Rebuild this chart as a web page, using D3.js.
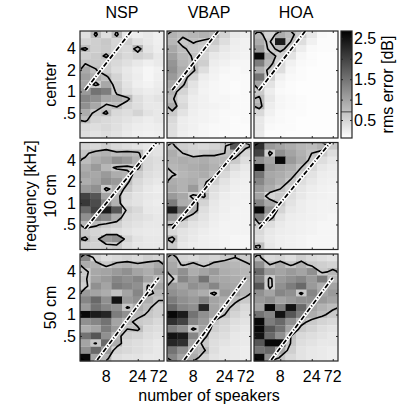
<!DOCTYPE html>
<html>
<head>
<meta charset="utf-8">
<script src="https://cdn.jsdelivr.net/npm/d3@7"></script>
<style>
  body { margin: 0; background: #fff; }
  text { font-family: "Liberation Sans", Arial, sans-serif; fill: #000; }
</style>
</head>
<body>
<svg id="chart" width="409" height="409"></svg>
<script>
// ---- data ----
var methods = ['NSP', 'VBAP', 'HOA']
var positions = ['center', '10 cm', '50 cm']
var speakers = [4, 6, 8, 12, 16, 24, 36, 72]
var speakerTicks = [8, 24, 72]
// third octave bands, top row first (Hz)
var freqs = [6300, 5000, 4000, 3150, 2500, 2000, 1600, 1250, 1000, 800, 630, 500, 400, 315, 250]
var freqTicks = [500, 1000, 2000, 4000]
var freqTickLabels = ['.5', '1', '2', '4']
var cbarTicks = [0.5, 1, 1.5, 2, 2.5]
var contourLevel = 0.7
// aliasing frequency (Hz) at the smallest and largest number of speakers, per row
var aliasLow = [1046, 438, 137]
var aliasHigh = [22000, 7740, 3290]

// rms error in dB, rows = freqs (high -> low), columns = speakers
var nspCenter = [
  [0.38, 0.75, 0.40, 0.76, 0.32, 0.25, 0.30, 0.22],
  [0.50, 0.55, 0.62, 0.48, 0.55, 0.38, 0.30, 0.22],
  [0.74, 0.55, 0.60, 0.50, 0.45, 0.85, 0.35, 0.25],
  [0.55, 0.60, 0.74, 0.55, 0.45, 0.52, 0.45, 0.30],
  [0.68, 0.62, 0.55, 0.45, 0.38, 0.30, 0.22, 0.28],
  [0.95, 0.72, 0.55, 0.40, 0.30, 0.22, 0.15, 0.20],
  [1.05, 0.90, 0.75, 0.50, 0.32, 0.25, 0.15, 0.22],
  [1.00, 0.60, 0.95, 0.55, 0.35, 0.22, 0.18, 0.25],
  [1.10, 1.50, 1.40, 0.60, 0.40, 0.30, 0.25, 0.28],
  [1.30, 1.20, 0.95, 0.90, 0.78, 0.40, 0.30, 0.35],
  [1.20, 0.95, 0.62, 0.74, 0.50, 0.40, 0.30, 0.30],
  [0.90, 0.60, 0.74, 0.45, 0.40, 0.50, 0.35, 0.30],
  [0.75, 0.50, 0.45, 0.40, 0.35, 0.30, 0.25, 0.30],
  [0.45, 0.40, 0.45, 0.38, 0.30, 0.25, 0.22, 0.25],
  [0.40, 0.35, 0.40, 0.35, 0.28, 0.22, 0.20, 0.22]
]
var vbapCenter = [
  [0.85, 0.75, 0.80, 0.85, 0.78, 0.50, 0.30, 0.25],
  [0.80, 0.62, 0.72, 0.65, 0.60, 0.40, 0.25, 0.20],
  [0.95, 0.74, 0.62, 0.58, 0.45, 0.30, 0.22, 0.20],
  [1.05, 0.78, 0.68, 0.50, 0.30, 0.25, 0.20, 0.18],
  [1.15, 0.82, 0.70, 0.55, 0.25, 0.20, 0.15, 0.15],
  [1.20, 0.90, 0.75, 0.40, 0.20, 0.15, 0.12, 0.15],
  [1.10, 0.85, 0.50, 0.25, 0.18, 0.12, 0.12, 0.12],
  [0.95, 0.75, 0.35, 0.20, 0.15, 0.12, 0.10, 0.12],
  [0.85, 0.50, 0.30, 0.18, 0.15, 0.12, 0.10, 0.12],
  [0.75, 0.40, 0.25, 0.20, 0.15, 0.15, 0.12, 0.12],
  [0.90, 0.45, 0.25, 0.20, 0.18, 0.15, 0.12, 0.12],
  [0.60, 0.35, 0.22, 0.18, 0.15, 0.12, 0.12, 0.12],
  [0.45, 0.25, 0.20, 0.18, 0.15, 0.12, 0.10, 0.12],
  [0.40, 0.25, 0.20, 0.15, 0.12, 0.12, 0.10, 0.10],
  [0.38, 0.22, 0.18, 0.15, 0.12, 0.10, 0.10, 0.10]
]
var hoaCenter = [
  [0.80, 0.50, 0.90, 0.75, 0.60, 0.30, 0.12, 0.10],
  [0.90, 0.60, 2.40, 0.70, 0.40, 0.20, 0.10, 0.10],
  [1.10, 0.60, 0.80, 0.55, 0.25, 0.12, 0.10, 0.10],
  [2.60, 0.90, 0.55, 0.35, 0.15, 0.10, 0.08, 0.08],
  [1.40, 0.80, 0.45, 0.20, 0.12, 0.10, 0.08, 0.08],
  [0.90, 0.62, 0.40, 0.15, 0.10, 0.08, 0.08, 0.08],
  [1.50, 0.55, 0.20, 0.12, 0.10, 0.08, 0.08, 0.08],
  [1.00, 0.35, 0.15, 0.10, 0.08, 0.08, 0.08, 0.08],
  [0.60, 0.25, 0.12, 0.10, 0.08, 0.08, 0.08, 0.08],
  [0.75, 0.30, 0.15, 0.12, 0.10, 0.08, 0.08, 0.08],
  [0.85, 0.25, 0.15, 0.12, 0.10, 0.08, 0.08, 0.08],
  [0.45, 0.20, 0.12, 0.10, 0.10, 0.08, 0.08, 0.08],
  [0.30, 0.15, 0.12, 0.10, 0.08, 0.08, 0.08, 0.08],
  [0.30, 0.12, 0.10, 0.10, 0.08, 0.08, 0.08, 0.08],
  [0.28, 0.10, 0.10, 0.08, 0.08, 0.08, 0.08, 0.08]
]
var nsp10 = [
  [0.50, 0.45, 0.55, 0.45, 0.40, 0.35, 0.30, 0.35],
  [0.65, 0.80, 0.85, 0.75, 0.80, 0.76, 0.40, 0.35],
  [0.74, 0.90, 1.00, 1.20, 1.10, 0.85, 0.45, 0.40],
  [0.90, 1.10, 0.80, 0.65, 0.60, 0.75, 0.45, 0.38],
  [1.00, 0.95, 1.10, 0.90, 0.85, 0.55, 0.40, 0.35],
  [0.90, 1.00, 1.20, 1.10, 0.75, 0.45, 0.35, 0.30],
  [1.10, 1.20, 0.60, 0.90, 0.60, 0.40, 0.30, 0.25],
  [2.00, 1.80, 1.00, 0.80, 0.45, 0.35, 0.30, 0.28],
  [2.10, 1.90, 1.30, 0.85, 0.40, 0.35, 0.28, 0.25],
  [1.60, 2.00, 2.40, 1.80, 0.55, 0.45, 0.30, 0.28],
  [1.20, 1.40, 1.30, 0.90, 0.45, 0.40, 0.35, 0.30],
  [0.80, 0.75, 0.60, 0.55, 0.40, 0.35, 0.30, 0.30],
  [0.60, 0.50, 0.45, 0.40, 0.35, 0.30, 0.28, 0.28],
  [0.74, 0.55, 1.10, 1.20, 0.50, 0.35, 0.30, 0.30],
  [0.55, 0.50, 0.55, 0.60, 0.40, 0.32, 0.30, 0.30]
]
var vbap10 = [
  [0.75, 0.55, 0.50, 0.45, 0.50, 0.60, 1.80, 0.80],
  [0.90, 0.70, 0.55, 0.60, 0.65, 0.70, 0.90, 0.50],
  [0.85, 0.90, 0.85, 0.90, 0.80, 0.80, 0.60, 0.40],
  [0.80, 0.85, 0.90, 0.95, 0.85, 0.60, 0.40, 0.30],
  [0.65, 0.80, 0.85, 0.90, 0.75, 0.45, 0.30, 0.25],
  [0.90, 0.85, 0.90, 0.75, 0.55, 0.35, 0.25, 0.22],
  [0.95, 0.85, 1.10, 0.70, 0.40, 0.30, 0.22, 0.20],
  [1.10, 0.95, 0.60, 0.75, 0.35, 0.25, 0.20, 0.20],
  [1.40, 0.90, 0.85, 0.50, 0.30, 0.22, 0.20, 0.18],
  [2.40, 1.50, 0.90, 0.40, 0.28, 0.22, 0.18, 0.18],
  [1.10, 0.80, 0.50, 0.35, 0.25, 0.20, 0.18, 0.18],
  [0.70, 0.50, 0.35, 0.30, 0.22, 0.18, 0.18, 0.18],
  [0.45, 0.35, 0.30, 0.25, 0.20, 0.18, 0.18, 0.18],
  [0.80, 0.35, 0.28, 0.22, 0.20, 0.18, 0.15, 0.15],
  [0.60, 0.30, 0.25, 0.22, 0.20, 0.18, 0.15, 0.15]
]
var hoa10 = [
  [2.20, 1.10, 1.00, 0.90, 0.80, 0.75, 0.85, 0.60],
  [2.00, 0.55, 1.20, 1.00, 0.85, 0.70, 0.60, 0.40],
  [1.20, 1.00, 2.60, 1.10, 0.90, 0.60, 0.40, 0.30],
  [2.60, 1.10, 1.00, 0.90, 0.70, 0.45, 0.30, 0.25],
  [1.50, 0.95, 0.90, 0.80, 0.55, 0.35, 0.25, 0.22],
  [1.30, 1.00, 0.85, 0.65, 0.40, 0.30, 0.22, 0.20],
  [1.10, 0.90, 0.70, 0.50, 0.32, 0.25, 0.20, 0.18],
  [1.00, 0.50, 0.60, 0.40, 0.30, 0.22, 0.20, 0.18],
  [1.30, 0.95, 0.65, 0.35, 0.25, 0.20, 0.18, 0.18],
  [2.60, 1.20, 0.50, 0.30, 0.25, 0.20, 0.18, 0.18],
  [1.40, 0.85, 0.35, 0.25, 0.22, 0.20, 0.18, 0.15],
  [0.60, 0.40, 0.28, 0.22, 0.20, 0.18, 0.15, 0.15],
  [0.45, 0.30, 0.25, 0.22, 0.20, 0.18, 0.15, 0.15],
  [0.40, 0.28, 0.22, 0.20, 0.18, 0.15, 0.15, 0.15],
  [0.74, 0.30, 0.22, 0.20, 0.18, 0.15, 0.15, 0.15]
]
var nsp50 = [
  [1.30, 0.50, 0.40, 0.45, 0.50, 0.45, 0.55, 0.50],
  [0.90, 0.85, 0.60, 0.80, 0.85, 0.75, 0.80, 0.95],
  [0.60, 0.95, 1.00, 1.10, 1.20, 1.00, 0.90, 1.10],
  [0.65, 1.00, 1.10, 1.30, 1.20, 1.30, 1.00, 0.80],
  [0.55, 1.20, 1.00, 1.40, 1.30, 1.20, 0.65, 0.95],
  [1.10, 1.00, 0.90, 0.70, 1.00, 1.30, 0.60, 0.80],
  [1.30, 1.60, 1.20, 2.50, 1.10, 1.20, 0.90, 0.70],
  [1.10, 1.50, 1.30, 1.20, 0.65, 0.90, 0.75, 0.55],
  [2.60, 2.40, 2.30, 1.40, 1.20, 0.80, 0.65, 0.55],
  [1.20, 1.30, 1.50, 1.00, 0.80, 0.60, 0.55, 0.45],
  [0.90, 1.00, 1.40, 1.10, 0.70, 0.75, 0.45, 0.40],
  [1.50, 1.80, 1.20, 0.80, 0.55, 0.50, 0.40, 0.35],
  [1.00, 0.65, 1.60, 0.90, 0.45, 0.40, 0.35, 0.30],
  [1.20, 1.60, 1.10, 0.50, 0.45, 0.40, 0.35, 0.30],
  [2.60, 1.00, 0.80, 0.40, 0.35, 0.35, 0.30, 0.30]
]
var vbap50 = [
  [0.85, 0.50, 0.45, 0.55, 0.50, 0.60, 0.70, 0.60],
  [0.95, 0.65, 0.80, 0.60, 0.80, 0.85, 0.80, 0.75],
  [1.00, 1.20, 0.90, 1.00, 1.10, 0.90, 0.85, 0.80],
  [0.60, 1.30, 1.10, 1.50, 1.00, 0.95, 0.90, 0.85],
  [1.10, 1.00, 1.20, 1.10, 1.30, 1.00, 0.95, 0.80],
  [1.20, 1.10, 1.00, 0.90, 0.60, 1.10, 1.00, 0.80],
  [1.40, 1.20, 1.10, 1.30, 1.00, 0.90, 0.75, 0.60],
  [1.60, 1.30, 1.20, 2.30, 1.00, 0.80, 0.60, 0.45],
  [2.60, 2.40, 1.50, 1.20, 1.00, 0.70, 0.50, 0.40],
  [2.20, 2.00, 1.30, 1.10, 0.65, 0.50, 0.40, 0.35],
  [1.40, 1.20, 0.60, 1.00, 0.55, 0.45, 0.35, 0.30],
  [2.50, 2.40, 1.30, 0.80, 0.45, 0.40, 0.30, 0.28],
  [2.30, 2.20, 1.00, 0.60, 0.40, 0.35, 0.30, 0.28],
  [1.50, 1.20, 0.80, 0.75, 0.40, 0.30, 0.28, 0.25],
  [1.30, 1.00, 0.90, 0.50, 0.35, 0.30, 0.28, 0.25]
]
var hoa50 = [
  [0.75, 0.45, 0.50, 0.40, 0.55, 0.45, 0.40, 0.35],
  [1.20, 0.70, 0.90, 0.65, 0.85, 0.60, 0.55, 0.50],
  [1.60, 1.10, 1.00, 1.10, 1.00, 1.20, 0.60, 0.80],
  [1.40, 0.60, 1.10, 1.20, 1.30, 1.10, 1.40, 0.75],
  [1.80, 0.55, 1.20, 1.40, 1.60, 1.10, 0.90, 1.00],
  [1.20, 1.00, 1.30, 1.20, 0.60, 1.30, 1.00, 1.10],
  [1.10, 1.20, 1.00, 1.10, 1.20, 1.20, 1.10, 1.00],
  [1.00, 2.60, 1.40, 2.50, 1.60, 1.00, 0.85, 0.75],
  [1.50, 1.30, 2.50, 1.80, 1.40, 0.90, 0.75, 0.60],
  [2.60, 1.40, 1.60, 1.20, 0.80, 0.60, 0.50, 0.45],
  [2.60, 1.80, 1.50, 1.00, 0.60, 0.50, 0.40, 0.35],
  [2.50, 1.60, 1.20, 0.70, 0.45, 0.40, 0.35, 0.30],
  [1.80, 2.60, 2.60, 0.65, 0.40, 0.35, 0.30, 0.30],
  [1.50, 1.60, 1.00, 0.55, 0.35, 0.30, 0.28, 0.25],
  [2.60, 1.20, 0.65, 0.45, 0.35, 0.30, 0.28, 0.25]
]
var grids = [
  [nspCenter, vbapCenter, hoaCenter],
  [nsp10, vbap10, hoa10],
  [nsp50, vbap50, hoa50]
]

// ---- layout ----
var panelX = [80, 167, 254]
var panelY = [31, 142.5, 254]
var pw = 84, ph = 107
var fontSize = 16
var third = Math.pow(2, 1 / 6)
var fTop = freqs[0] * third, fBottom = freqs[freqs.length - 1] / third
var frameColor = '#262626'

var svg = d3.select('#chart')
var defs = svg.append('defs')

var x = d3.scaleBand().domain(speakers).range([0, pw]).padding(0)
var y = d3.scaleLog().domain([fBottom, fTop]).range([ph, 0])
var gray = d3.scaleLinear().domain([0.06, 2.68]).range(['#ffffff', '#000000']).clamp(true)

// contour grid coords -> pixels
var gridProjection = d3.geoTransform({
  point: function (gx, gy) {
    this.stream.point(gx * x.bandwidth(), y(fTop / Math.pow(2, gy / 3)))
  }
})
var contourPath = d3.geoPath(gridProjection)
var contours = d3.contours().size([speakers.length, freqs.length]).thresholds([contourLevel])

defs.append('clipPath').attr('id', 'clipInner')
  .append('rect').attr('x', 1).attr('y', 1).attr('width', pw - 2).attr('height', ph - 2)
defs.append('clipPath').attr('id', 'clipPanel')
  .append('rect').attr('x', 0).attr('y', 0).attr('width', pw).attr('height', ph)

function styleAxis (g) {
  g.select('.domain').remove()
  g.selectAll('line').attr('stroke', frameColor)
  g.attr('font-family', null).attr('font-size', fontSize)
}

grids.forEach(function (rowGrids, r) {
  rowGrids.forEach(function (grid, c) {
    var g = svg.append('g').attr('transform', 'translate(' + panelX[c] + ',' + panelY[r] + ')')

    // cells
    grid.forEach(function (rowVals, i) {
      g.selectAll(null)
        .data(rowVals)
        .enter()
        .append('rect')
          .attr('x', (d, j) => x(speakers[j]))
          .attr('y', y(freqs[i] * third))
          .attr('width', x.bandwidth() + 0.3)
          .attr('height', y(freqs[i] / third) - y(freqs[i] * third) + 0.3)
          .attr('fill', (d) => gray(d))
    })

    // contour at the level marked in the colorbar
    var flat = [].concat.apply([], grid)
    g.append('g').attr('clip-path', 'url(#clipInner)')
      .selectAll('path')
      .data(contours(flat))
      .enter()
      .append('path')
        .attr('d', contourPath)
        .attr('fill', 'none')
        .attr('stroke', '#000')
        .attr('stroke-width', 1.6)
        .attr('stroke-linejoin', 'round')

    // spatial aliasing frequency
    var alias = g.append('g').attr('clip-path', 'url(#clipPanel)')
    var ax1 = x(speakers[0]) + x.bandwidth() / 2
    var ax2 = x(speakers[speakers.length - 1]) + x.bandwidth() / 2
    alias.append('line')
      .attr('x1', ax1).attr('y1', y(aliasLow[r]))
      .attr('x2', ax2).attr('y2', y(aliasHigh[r]))
      .attr('stroke', '#fff').attr('stroke-width', 4.2)
    alias.append('line')
      .attr('x1', ax1).attr('y1', y(aliasLow[r]))
      .attr('x2', ax2).attr('y2', y(aliasHigh[r]))
      .attr('stroke', '#000').attr('stroke-width', 1.8)
      .attr('stroke-dasharray', '5,2,1,2')

    // inward ticks on all sides
    var tickX = (s) => x(s) + x.bandwidth() / 2
    g.append('g').attr('transform', 'translate(0,' + ph + ')')
      .call(d3.axisBottom(d3.scaleIdentity()).tickValues(speakerTicks.map(tickX)).tickSize(-2).tickFormat(''))
      .call(styleAxis)
    g.append('g')
      .call(d3.axisTop(d3.scaleIdentity()).tickValues(speakerTicks.map(tickX)).tickSize(-2).tickFormat(''))
      .call(styleAxis)
    g.append('g')
      .call(d3.axisLeft(y).tickValues(freqTicks).tickSize(-2).tickFormat(''))
      .call(styleAxis)
    g.append('g').attr('transform', 'translate(' + pw + ',0)')
      .call(d3.axisRight(y).tickValues(freqTicks).tickSize(-2).tickFormat(''))
      .call(styleAxis)

    // labels
    if (c === 0) {
      g.append('g')
        .call(d3.axisLeft(y).tickValues(freqTicks).tickSize(0).tickPadding(4)
          .tickFormat((d, i) => freqTickLabels[i]))
        .call(styleAxis)
    }
    if (r === grids.length - 1) {
      var xl = g.append('g').attr('transform', 'translate(0,' + ph + ')')
      speakerTicks.forEach(function (s) {
        xl.append('text')
          .attr('x', tickX(s)).attr('y', 21)
          .attr('text-anchor', 'middle').attr('font-size', fontSize)
          .text(s)
      })
    }

    g.append('rect')
      .attr('width', pw).attr('height', ph)
      .attr('fill', 'none').attr('stroke', frameColor).attr('stroke-width', 1.2)
  })
})

// column titles
methods.forEach(function (m, c) {
  svg.append('text')
    .attr('x', panelX[c] + pw / 2).attr('y', 18)
    .attr('text-anchor', 'middle').attr('font-size', fontSize)
    .text(m)
})

// row labels
positions.forEach(function (p, r) {
  svg.append('text')
    .attr('transform', 'translate(56,' + (panelY[r] + ph / 2) + ') rotate(-90)')
    .attr('text-anchor', 'middle').attr('font-size', fontSize)
    .text(p)
})

svg.append('text')
  .attr('transform', 'translate(36,' + (panelY[1] + ph / 2) + ') rotate(-90)')
  .attr('text-anchor', 'middle').attr('font-size', fontSize)
  .text('frequency [kHz]')

svg.append('text')
  .attr('x', panelX[1] + pw / 2).attr('y', 401)
  .attr('text-anchor', 'middle').attr('font-size', fontSize)
  .text('number of speakers')

// colorbar
var cbX = 341, cbW = 11
var cb = d3.scaleLinear().domain(gray.domain()).range([panelY[0] + ph, panelY[0]])
var grad = defs.append('linearGradient').attr('id', 'cbGrad')
  .attr('x1', 0).attr('y1', 1).attr('x2', 0).attr('y2', 0)
grad.append('stop').attr('offset', 0).attr('stop-color', gray.range()[0])
grad.append('stop').attr('offset', 1).attr('stop-color', gray.range()[1])

var cbg = svg.append('g').attr('transform', 'translate(' + cbX + ',0)')
cbg.append('rect')
  .attr('y', panelY[0]).attr('width', cbW).attr('height', ph)
  .attr('fill', 'url(#cbGrad)')
cbg.append('line')
  .attr('x1', 0).attr('x2', cbW)
  .attr('y1', cb(contourLevel)).attr('y2', cb(contourLevel))
  .attr('stroke', '#444').attr('stroke-width', 1)
cbg.append('g')
  .call(d3.axisLeft(cb).tickValues(cbarTicks).tickSize(-2).tickFormat(''))
  .call(styleAxis)
cbg.append('g').attr('transform', 'translate(' + cbW + ',0)')
  .call(d3.axisRight(cb).tickValues(cbarTicks).tickSize(-2).tickFormat(''))
  .call(styleAxis)
cbg.append('g').attr('transform', 'translate(' + cbW + ',0)')
  .call(d3.axisRight(cb).tickValues(cbarTicks).tickSize(0).tickPadding(2).tickFormat(d3.format('')))
  .call(styleAxis)
cbg.append('rect')
  .attr('y', panelY[0]).attr('width', cbW).attr('height', ph)
  .attr('fill', 'none').attr('stroke', frameColor).attr('stroke-width', 1.2)

svg.append('text')
  .attr('transform', 'translate(393,' + (panelY[0] + ph / 2) + ') rotate(-90)')
  .attr('text-anchor', 'middle').attr('font-size', fontSize)
  .text('rms error [dB]')
</script>
</body>
</html>
